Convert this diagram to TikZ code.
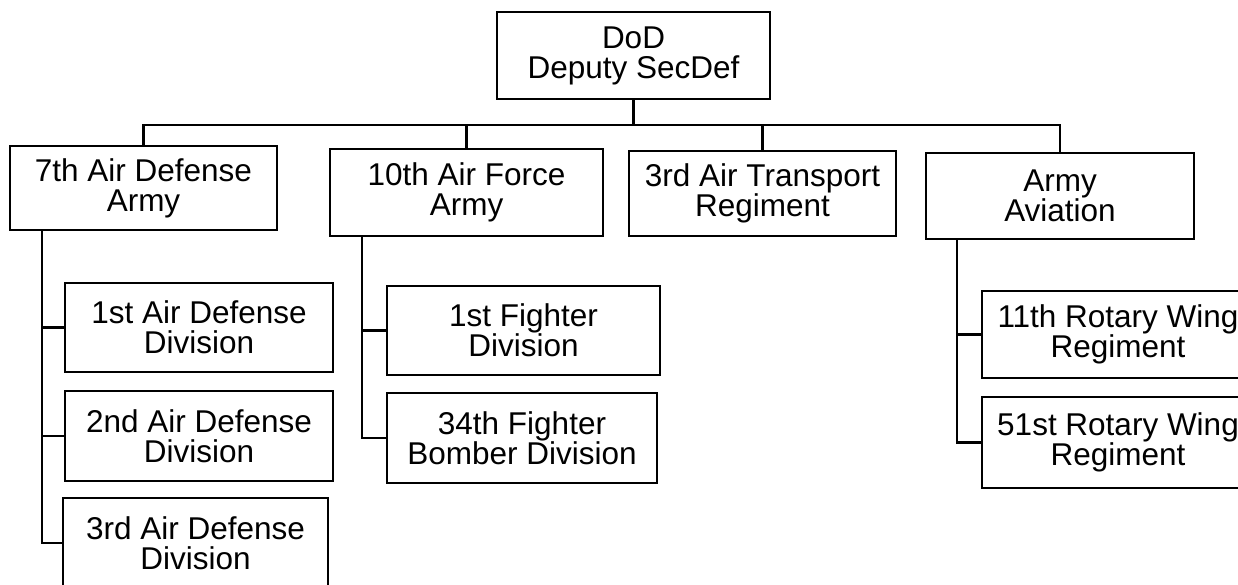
\documentclass[tikz,border=0pt]{standalone}
\usepackage{fontspec}
\setmainfont{Liberation Sans}
\begin{document}
\begin{tikzpicture}[x=1pt,y=-1pt,
  box/.style={draw, line width=1.8pt, rectangle, inner sep=0pt, align=center,
    font=\fontsize{31.5}{30}\selectfont},
  conn/.style={line width=2.3pt}]
\useasboundingbox (0,0) rectangle (1238,585);
% top
\node[box, minimum width=273pt, minimum height=87pt] (dod) at (633.5,55.5) {DoD\\Deputy SecDef};
% level 2
\node[box, minimum width=267pt, minimum height=84pt] (a7) at (143.5,188) {7th Air Defense\\Army};
\node[box, minimum width=273pt, minimum height=87pt] (a10) at (466.5,192.5) {10th Air Force\\Army};
\node[box, minimum width=267pt, minimum height=85pt] (at3) at (762.5,193.5) {3rd Air Transport\\Regiment};
\node[box, minimum width=268pt, minimum height=86pt] (aa) at (1060,196) {Army\\Aviation};
% level 3
\node[box, minimum width=268pt, minimum height=89pt] (d1) at (199,327.5) {1st Air Defense\\Division};
\node[box, minimum width=268pt, minimum height=90pt] (d2) at (199,436) {2nd Air Defense\\Division};
\node[box, minimum width=265pt, minimum height=90pt] (d3) at (195.5,543) {3rd Air Defense\\Division};
\node[box, minimum width=273pt, minimum height=89pt] (f1) at (523.5,330.5) {1st Fighter\\Division};
\node[box, minimum width=270pt, minimum height=90pt] (f34) at (522,438) {34th Fighter\\Bomber Division};
\node[box, minimum width=272pt, minimum height=87pt] (r11) at (1118,334.5) {11th Rotary Wing\\Regiment};
\node[box, minimum width=272pt, minimum height=91pt] (r51) at (1118,442.5) {51st Rotary Wing\\Regiment};
% bus
\coordinate (bus) at (0,125);
\draw[conn] (dod.south) -- (dod.south |- bus);
\draw[conn] (a7.north) -- (a7.north |- bus) -- (aa.north |- bus) -- (aa.north);
\draw[conn] (a10.north) -- (a10.north |- bus);
\draw[conn] (at3.north) -- (at3.north |- bus);
% trunks
\coordinate (t7) at (42,0);
\coordinate (t10) at (362,0);
\coordinate (taa) at (957,0);
\draw[conn] (a7.south -| t7) -- (d3.west -| t7) -- (d3.west);
\draw[conn] (d1.west -| t7) -- (d1.west);
\draw[conn] (d2.west -| t7) -- (d2.west);
\draw[conn] (a10.south -| t10) -- (f34.west -| t10) -- (f34.west);
\draw[conn] (f1.west -| t10) -- (f1.west);
\draw[conn] (aa.south -| taa) -- (r51.west -| taa) -- (r51.west);
\draw[conn] (r11.west -| taa) -- (r11.west);
\end{tikzpicture}
\end{document}
